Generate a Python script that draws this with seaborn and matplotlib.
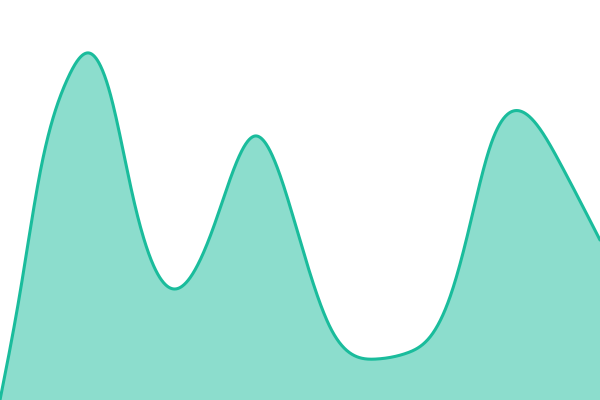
import numpy as np
import pandas as pd
import matplotlib
matplotlib.use("Agg")
import matplotlib.pyplot as plt
import seaborn as sns

# Knot values (x position, height)
x_vals = [0, 20, 40, 67, 89, 110, 133, 150, 174, 215, 255, 297, 330, 350, 377, 407, 430, 450, 467, 490, 520, 560, 600]
y_vals = [0, 107, 227, 320, 347, 307, 203, 143, 111, 177, 264, 170, 73, 47, 41, 47, 63, 103, 163, 253, 289, 237, 160]


def natural_spline(x, y, xs):
    x = np.asarray(x, float)
    y = np.asarray(y, float)
    n = len(x)
    h = np.diff(x)
    A = np.zeros((n, n))
    b = np.zeros(n)
    A[0, 0] = 1
    A[-1, -1] = 1
    for i in range(1, n - 1):
        A[i, i - 1] = h[i - 1]
        A[i, i] = 2 * (h[i - 1] + h[i])
        A[i, i + 1] = h[i]
        b[i] = 6 * ((y[i + 1] - y[i]) / h[i] - (y[i] - y[i - 1]) / h[i - 1])
    M = np.linalg.solve(A, b)
    idx = np.clip(np.searchsorted(x, xs) - 1, 0, n - 2)
    hi = h[idx]
    a = x[idx + 1] - xs
    c = xs - x[idx]
    return (M[idx] * a**3 / (6 * hi) + M[idx + 1] * c**3 / (6 * hi)
            + (y[idx] / hi - M[idx] * hi / 6) * a
            + (y[idx + 1] / hi - M[idx + 1] * hi / 6) * c)


xs = np.linspace(min(x_vals), max(x_vals), 1200)
ys = natural_spline(x_vals, y_vals, xs)
df = pd.DataFrame({"x": xs, "y": ys})

sns.set_style("white")
fig = plt.figure(figsize=(6, 4), dpi=100)
ax = fig.add_axes([0, 0, 1, 1])
line_color = "#1abc9c"
ax.fill_between(df["x"], df["y"], 0, color=line_color, alpha=0.5, linewidth=0)
sns.lineplot(data=df, x="x", y="y", ax=ax, color=line_color, linewidth=2.2, sort=False)
ax.set_xlim(0, 600)
ax.set_ylim(0, 400)
ax.axis("off")
fig.savefig("out.png", dpi=100)
